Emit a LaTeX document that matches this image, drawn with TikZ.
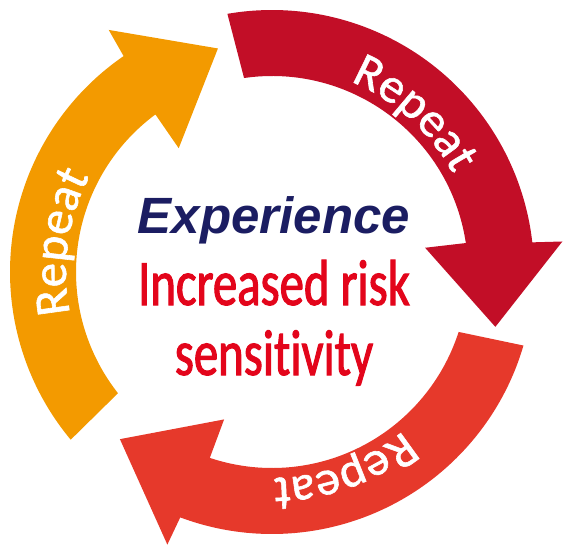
\documentclass[tikz,border=0pt]{standalone}
\usepackage{fontspec}
\usetikzlibrary{decorations.text}
\newfontfamily\expfont{Liberation Sans}
\newfontfamily\condfont[FakeStretch=0.75,FakeBold=1.6,Ligatures={NoCommon}]{Carlito}
\newfontfamily\repfont[FakeBold=1.2,Ligatures={NoCommon}]{Carlito}
\definecolor{redA}{HTML}{C20E27}
\definecolor{orA}{HTML}{F39A00}
\definecolor{redB}{HTML}{E6392B}
\definecolor{navy}{HTML}{1B1D62}
\definecolor{txtred}{HTML}{E3051B}
\tikzset{
  replabel/.style={decorate, decoration={text along path, text align=center,
    text color=white, text={|\repfont\fontsize{49pt}{49pt}\selectfont|Repeat}}},
  mainlabel/.style={anchor=base, inner sep=0pt}
}
\begin{document}
\begin{tikzpicture}
\useasboundingbox (0pt,0pt) rectangle (570pt,-550pt);
\begin{scope}[shift={(272pt,-272pt)}]
  % red top arrow
  \fill[redA] (99.8:262pt) arc[start angle=99.8, end angle=6.5, radius=262pt]
    -- (6:292pt) -- (-13.8:230pt) -- (9:155pt) -- (8.5:196pt)
    arc[start angle=8.5, end angle=98.2, radius=196pt] -- cycle;
  % bottom arrow
  \fill[redB] (343.7:262pt) arc[start angle=343.7, end angle=249.5, radius=262pt]
    -- (249:292pt) -- (227.7:226pt) -- (252:155pt) -- (251.5:196pt)
    arc[start angle=251.5, end angle=342.2, radius=196pt] -- cycle;
  % orange arrow
  \fill[orA] (219.8:262pt) arc[start angle=219.8, end angle=124.5, radius=262pt]
    -- (124:292pt) -- (103.6:230pt) -- (127:155pt) -- (126.5:196pt)
    arc[start angle=126.5, end angle=218.2, radius=196pt] -- cycle;
  % labels
  \path[replabel] (90:206pt) arc[start angle=90, end angle=6, radius=206pt];
  \path[replabel] (214:206pt) arc[start angle=214, end angle=130, radius=206pt];
  \path[replabel] (332:206pt) arc[start angle=332, end angle=248, radius=206pt];
\end{scope}
\node[mainlabel, text=navy, font=\expfont\bfseries\itshape\fontsize{51pt}{51pt}\selectfont] (exp) at (274pt,-233pt) {Experience};
\node[mainlabel, text=txtred, font=\condfont\fontsize{65pt}{65pt}\selectfont] (inc) at (274pt,-305pt) {Increased risk};
\node[mainlabel, text=txtred, font=\condfont\fontsize{65pt}{65pt}\selectfont] (sen) at (274pt,-375pt) {sensitivity};
\end{tikzpicture}
\end{document}
